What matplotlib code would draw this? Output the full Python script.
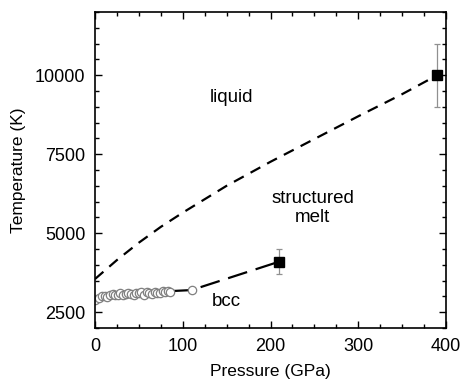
import matplotlib
matplotlib.use("Agg")
import matplotlib.pyplot as plt
from matplotlib.ticker import MultipleLocator

# ==========================================
# DATA
# ==========================================
# upper melting curve (liquid / structured melt boundary)
upper_p = [0, 25, 50, 75, 100, 150, 200, 250, 300, 350, 390]
upper_t = [3550, 4150, 4700, 5200, 5650, 6500, 7260, 7980, 8700, 9400, 10000]

# bcc melting line extension (dashed)
lower_p = [88, 110, 210]
lower_t = [3170, 3200, 4100]

# DAC measurements (open circles)
circ_p = [0, 5, 8, 11, 14, 17, 20, 23, 26, 29, 32, 35, 38, 41, 44, 47,
          50, 53, 56, 59, 62, 65, 68, 71, 74, 77, 80, 83, 86, 110]
circ_t = [2900, 2960, 3000, 3020, 2990, 3050, 3080, 3030, 3060, 3100, 3050,
          3070, 3110, 3080, 3060, 3120, 3100, 3140, 3050, 3130, 3110, 3090,
          3150, 3120, 3100, 3160, 3140, 3170, 3130, 3200]

# shock points with error bars
sq_p = [210, 390]
sq_t = [4100, 10000]
sq_err = [400, 1000]

# region labels
labels = ["liquid", "structured\nmelt", "bcc"]
label_p = [155, 248, 150]
label_t = [9300, 5800, 2850]

# ==========================================
# PLOT
# ==========================================
plt.rcParams["font.family"] = ["Liberation Sans", "DejaVu Sans"]

fig = plt.figure(figsize=(4.62, 3.83), dpi=100)
ax = fig.add_axes([0.2056, 0.1436, 0.7598, 0.8251])

ax.plot(upper_p, upper_t, color="black", lw=1.6, dashes=(5, 3.5))
ax.plot(lower_p, lower_t, color="black", lw=1.6, dashes=(9, 4))
ax.plot(circ_p, circ_t, linestyle="none", marker="o", markersize=6,
        markerfacecolor="white", markeredgecolor="#808080", markeredgewidth=0.9)
ax.errorbar(sq_p, sq_t, yerr=sq_err, fmt="s", color="black", markersize=6.5,
            ecolor="#909090", elinewidth=0.9, capsize=2.5, capthick=0.9, zorder=5)

for txt, x, y in zip(labels, label_p, label_t):
    ax.text(x, y, txt, ha="center", va="center", fontsize=13.5, linespacing=1.2)

ax.set_xlim(0, 400)
ax.set_ylim(2000, 12000)
ax.xaxis.set_major_locator(MultipleLocator(100))
ax.xaxis.set_minor_locator(MultipleLocator(25))
ax.yaxis.set_major_locator(MultipleLocator(2500))
ax.yaxis.set_minor_locator(MultipleLocator(500))
ax.tick_params(which="both", direction="in", top=True, right=True,
               labelsize=13, width=1.0, pad=7)
ax.tick_params(which="major", length=5)
ax.tick_params(which="minor", length=3)
for s in ax.spines.values():
    s.set_linewidth(1.2)

ax.set_xlabel("Pressure (GPa)", fontsize=12.5, labelpad=7)
ax.set_ylabel("Temperature (K)", fontsize=12.5, labelpad=6)

fig.savefig("out.png", dpi=100)
